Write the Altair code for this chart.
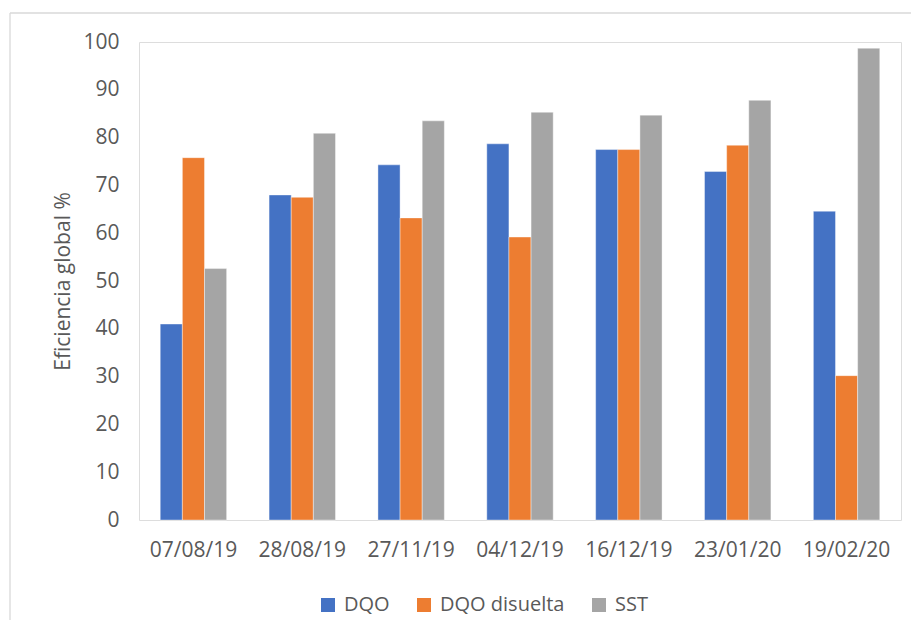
import altair as alt
import pandas as pd

fechas = ["07/08/19", "28/08/19", "27/11/19", "04/12/19", "16/12/19", "23/01/20", "19/02/20"]
series = ["DQO", "DQO disuelta", "SST"]
dqo = [41.0, 68.0, 74.3, 78.7, 77.5, 72.9, 64.6]
dqo_dis = [75.8, 67.5, 63.2, 59.2, 77.5, 78.4, 30.2]
sst = [52.6, 80.9, 83.5, 85.3, 84.7, 87.8, 98.7]
colores = ["#4472C4", "#ED7D31", "#A5A5A5"]

rows = []
for s, vals in zip(series, [dqo, dqo_dis, sst]):
    for f, v in zip(fechas, vals):
        rows.append({"Fecha": f, "Serie": s, "Valor": v})
df = pd.DataFrame(rows)

FONT = "Open Sans"
TXT = "#595959"

bars = alt.Chart(df).mark_bar(stroke="white", strokeWidth=0.4).encode(
    x=alt.X("Fecha:N", sort=fechas, title=None,
            scale=alt.Scale(paddingInner=0.39, paddingOuter=0.195),
            axis=alt.Axis(labelAngle=0, ticks=False, domain=False, labelPadding=19,
                          labelFontSize=21, labelColor=TXT, labelFont=FONT)),
    xOffset=alt.XOffset("Serie:N", sort=series, scale=alt.Scale(paddingInner=0, paddingOuter=0)),
    y=alt.Y("Valor:Q", title="Eficiencia global %",
            scale=alt.Scale(domain=[0, 100], nice=False),
            axis=alt.Axis(values=list(range(0, 101, 10)), ticks=False, domain=False, grid=False,
                          labelPadding=20, labelFontSize=21, labelColor=TXT, labelFont=FONT,
                          titleFontSize=21, titleColor=TXT, titleFont=FONT, titleFontWeight="normal",
                          titlePadding=9)),
    color=alt.Color("Serie:N", sort=series, scale=alt.Scale(domain=series, range=colores),
                    legend=alt.Legend(title=None, orient="none", direction="horizontal",
                                      legendX=179, legendY=553, symbolType="square",
                                      symbolSize=196, symbolStrokeWidth=0, labelFontSize=20,
                                      labelColor=TXT, labelFont=FONT, labelOffset=6,
                                      columnPadding=24, padding=0)),
)

one = pd.DataFrame({"a": [0]})
left_border = alt.Chart(one).mark_rule(color="#d9d9d9", strokeWidth=1.3, clip=False).encode(
    x=alt.value(-129), y=alt.value(-29), y2=alt.value(580))
top_border = alt.Chart(one).mark_rule(color="#d9d9d9", strokeWidth=1.3, clip=False).encode(
    x=alt.value(-129), x2=alt.value(780), y=alt.value(-29))

chart = alt.layer(bars, left_border, top_border).properties(
    width=762, height=478,
    autosize=alt.AutoSizeParams(type="none"),
    padding={"left": 131, "top": 34, "right": 10, "bottom": 100},
).configure_view(stroke="#d9d9d9", strokeWidth=1.3).configure(background="white")

chart.save("out.html", embed_options={"renderer": "svg", "actions": False})
